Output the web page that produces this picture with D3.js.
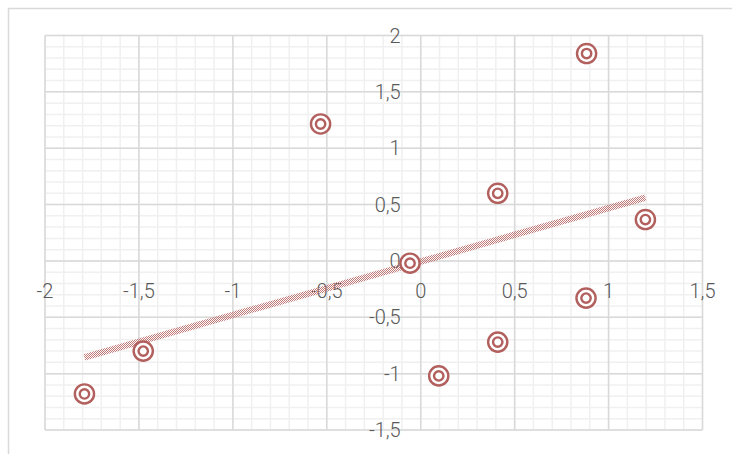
<!DOCTYPE html>
<html>
<head>
<meta charset="utf-8">
<script src="https://cdn.jsdelivr.net/npm/d3@7"></script>
<style>
  html, body { margin: 0; padding: 0; background: #fff; }
  svg { display: block; }
  text { font-family: Roboto, "Noto Sans", sans-serif; }
</style>
</head>
<body>
<svg id="chart" width="732" height="454"></svg>
<script>
// Sample values
const xValues = [-1.79, -1.477, -0.533, -0.057, 0.096, 0.41, 0.41, 0.883, 0.88, 1.196];
const yValues = [-1.18, -0.80, 1.215, -0.02, -1.02, 0.60, -0.72, 1.84, -0.33, 0.367];

// Axis ticks
const xTicks = [-2, -1.5, -1, -0.5, 0, 0.5, 1, 1.5];
const yTicks = [-1.5, -1, -0.5, 0, 0.5, 1, 1.5, 2];
const xDomain = [-2, 1.5];
const yDomain = [-1.5, 2];

const svg = d3.select("#chart");
const W = 732, H = 454;
const plot = { left: 45, right: 702.5, top: 35.5, bottom: 430 };

const x = d3.scaleLinear().domain(xDomain).range([plot.left, plot.right]);
const y = d3.scaleLinear().domain(yDomain).range([plot.bottom, plot.top]);

const markColor = "#b2605e";
const trendColor = "#c27a78";
const fmt = v => String(v).replace(".", ",");

// Outer chart frame (open on the right and bottom edges)
svg.append("path")
  .attr("d", `M8.5,${H} L8.5,8.5 L${W},8.5`)
  .attr("fill", "none")
  .attr("stroke", "#d9d9d9")
  .attr("stroke-width", 1.5);

// Dotted fill for the trendline
const defs = svg.append("defs");
const pat = defs.append("pattern")
  .attr("id", "dots")
  .attr("patternUnits", "userSpaceOnUse")
  .attr("width", 2).attr("height", 2);
pat.append("rect").attr("x", 0).attr("y", 0).attr("width", 1).attr("height", 1).attr("fill", trendColor);
pat.append("rect").attr("x", 1).attr("y", 1).attr("width", 1).attr("height", 1).attr("fill", trendColor);

// Minor gridlines
const step = 0.1;
const minorX = d3.range(Math.round((xDomain[1] - xDomain[0]) / step) + 1).map(i => +(xDomain[0] + i * step).toFixed(2));
const minorY = d3.range(Math.round((yDomain[1] - yDomain[0]) / step) + 1).map(i => +(yDomain[0] + i * step).toFixed(2));
const grid = svg.append("g");
grid.selectAll(".mx").data(minorX).join("line")
  .attr("x1", d => x(d)).attr("x2", d => x(d))
  .attr("y1", plot.top).attr("y2", plot.bottom)
  .attr("stroke", "#f0f0f0").attr("stroke-width", 1.5);
grid.selectAll(".my").data(minorY).join("line")
  .attr("y1", d => y(d)).attr("y2", d => y(d))
  .attr("x1", plot.left).attr("x2", plot.right)
  .attr("stroke", "#f0f0f0").attr("stroke-width", 1.5);

// Major gridlines
grid.selectAll(".Mx").data(xTicks).join("line")
  .attr("x1", d => x(d)).attr("x2", d => x(d))
  .attr("y1", plot.top).attr("y2", plot.bottom)
  .attr("stroke", "#d9d9d9").attr("stroke-width", 1.5);
grid.selectAll(".My").data(yTicks).join("line")
  .attr("y1", d => y(d)).attr("y2", d => y(d))
  .attr("x1", plot.left).attr("x2", plot.right)
  .attr("stroke", "#d9d9d9").attr("stroke-width", 1.5);

// Tick labels placed along the axes through the origin
const labels = svg.append("g")
  .attr("fill", "#595959")
  .attr("font-size", 20)
  .attr("font-weight", 300);
labels.selectAll(".xl").data(xTicks).join("text")
  .attr("x", d => x(d))
  .attr("y", y(0) + 37)
  .attr("text-anchor", "middle")
  .text(fmt);
labels.selectAll(".yl").data(yTicks).join("text")
  .attr("x", x(0) - 20)
  .attr("y", d => y(d) + 7)
  .attr("text-anchor", "end")
  .text(fmt);

// Least-squares trendline over the sample range
const mx = d3.mean(xValues), my = d3.mean(yValues);
const sxy = d3.sum(xValues, (v, i) => (v - mx) * (yValues[i] - my));
const sxx = d3.sum(xValues, v => (v - mx) * (v - mx));
const slope = sxy / sxx;
const intercept = my - slope * mx;
const [x0, x1] = d3.extent(xValues);
svg.append("line")
  .attr("x1", x(x0)).attr("y1", y(slope * x0 + intercept))
  .attr("x2", x(x1)).attr("y2", y(slope * x1 + intercept))
  .attr("stroke", "url(#dots)")
  .attr("stroke-width", 6.5);

// Data points drawn as double rings
const pts = svg.append("g")
  .selectAll("g")
  .data(xValues.map((v, i) => [v, yValues[i]]))
  .join("g")
  .attr("transform", d => `translate(${x(d[0])},${y(d[1])})`);
pts.append("circle").attr("r", 9.6)
  .attr("fill", "#fff").attr("stroke", markColor).attr("stroke-width", 2.4);
pts.append("circle").attr("r", 4.7)
  .attr("fill", "none").attr("stroke", markColor).attr("stroke-width", 2.4);
</script>
</body>
</html>
